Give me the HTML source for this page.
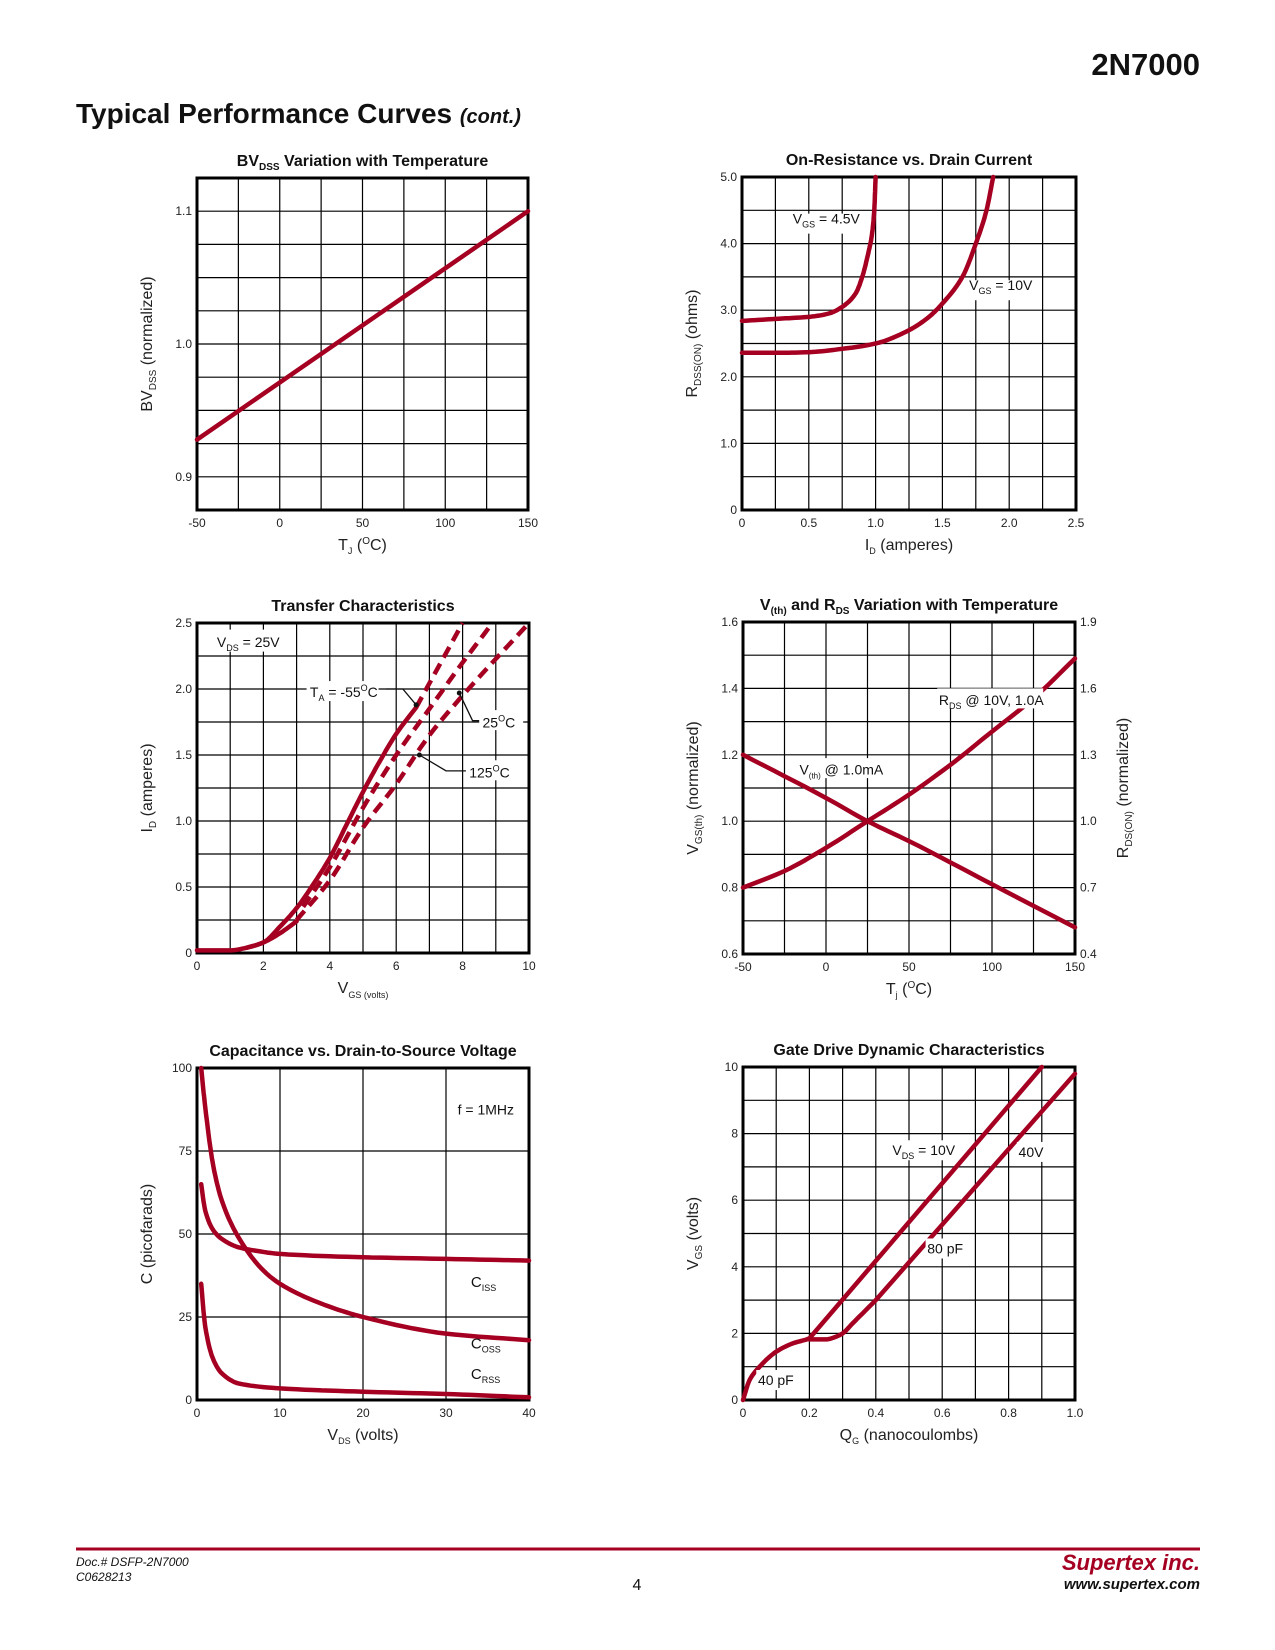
<!DOCTYPE html>
<html><head><meta charset="utf-8">
<style>
body{margin:0;background:#fff;}
svg{display:block;font-family:"Liberation Sans",Arial,sans-serif;}
</style></head>
<body>
<svg id="page" width="1275" height="1650" viewBox="0 0 1275 1650" xmlns="http://www.w3.org/2000/svg">
<text x="1200" y="75" text-anchor="end" font-size="31" font-weight="bold" fill="#111">2N7000</text>
<text x="76" y="123" font-size="28" font-weight="bold" fill="#111">Typical Performance Curves <tspan font-size="20" font-style="italic">(cont.)</tspan></text>
<line x1="76" y1="1549" x2="1200" y2="1549" stroke="#A50021" stroke-width="3"/>
<text x="76" y="1566" font-size="12" font-style="italic" fill="#111">Doc.# DSFP-2N7000</text>
<text x="76" y="1581" font-size="12" font-style="italic" fill="#111">C0628213</text>
<text x="637" y="1590" font-size="16" text-anchor="middle" fill="#111">4</text>
<text x="1200" y="1570" text-anchor="end" font-size="22" font-weight="bold" font-style="italic" fill="#A50021">Supertex inc.</text>
<text x="1200" y="1589" text-anchor="end" font-size="15" font-weight="bold" font-style="italic" fill="#111">www.supertex.com</text>
<g id="charts"></g>
</svg>
<script>
// ---- Chart 1: BVdss ----
const bvT = [-50, 150];
const bvV = [0.928, 1.1];
// ---- Chart 2: On-resistance ----
const ron45I = [0, 0.25, 0.5, 0.65, 0.75, 0.85, 0.9, 0.95, 0.97, 0.99, 1.0];
const ron45R = [2.84, 2.87, 2.9, 2.95, 3.05, 3.25, 3.5, 3.9, 4.1, 4.5, 5.0];
const ron10I = [0, 0.25, 0.5, 0.75, 1.0, 1.25, 1.4, 1.5, 1.65, 1.75, 1.83, 1.88];
const ron10R = [2.36, 2.36, 2.37, 2.42, 2.5, 2.7, 2.9, 3.1, 3.5, 4.0, 4.5, 5.0];
// ---- Chart 3: Transfer ----
const trLowV = [0, 0.5, 1, 1.5, 2, 2.5, 3];
const trLowI = [0.02, 0.02, 0.02, 0.04, 0.08, 0.15, 0.24];
const tr55V = [1.5, 2, 2.5, 3, 3.5, 4, 4.5, 5, 5.5, 6, 6.6];
const tr55I = [0.04, 0.08, 0.2, 0.34, 0.52, 0.72, 0.97, 1.22, 1.45, 1.66, 1.86];
const tr55dV = [6.6, 8.0];
const tr55dI = [1.86, 2.5];
const tr25V = [3.2, 4, 5, 6, 7, 8, 8.9];
const tr25I = [0.35, 0.65, 1.1, 1.5, 1.85, 2.2, 2.5];
const tr125V = [3, 4, 5, 6, 7, 8, 10];
const tr125I = [0.25, 0.55, 0.95, 1.28, 1.65, 1.95, 2.5];
// ---- Chart 4: Vth & Rds vs temp ----
const vtT = [-50, 0, 25, 50, 100, 150];
const vtV = [1.2, 1.07, 1.0, 0.94, 0.81, 0.68];
const rdsT = [-50, -25, 0, 25, 50, 75, 100, 125, 150];
const rdsR = [0.7, 0.775, 0.88, 1.0, 1.12, 1.255, 1.405, 1.555, 1.735];
// ---- Chart 5: Capacitance ----
const cissV = [0.5, 1, 2, 3, 5, 7, 10, 20, 30, 40];
const cissC = [65, 57, 51, 48.5, 46, 45, 44, 43, 42.5, 42];
const cossV = [0.5, 1, 2, 3, 5, 8, 10, 15, 20, 30, 40];
const cossC = [100, 88, 70, 60, 49, 39, 35, 29, 25, 20, 18];
const crssV = [0.5, 1, 2, 3, 5, 10, 20, 30, 40];
const crssC = [35, 22, 12, 8, 5, 3.5, 2.5, 1.8, 0.8];
// ---- Chart 6: Gate charge ----
const g10Q = [0, 0.02, 0.05, 0.1, 0.15, 0.2, 0.9];
const g10V = [0, 0.6, 1.0, 1.45, 1.7, 1.85, 10];
const g40Q = [0.2, 0.25, 0.28, 0.3, 0.33, 0.4, 1.0];
const g40V = [1.82, 1.82, 1.9, 2.0, 2.3, 3.0, 9.8];

const NS = "http://www.w3.org/2000/svg";
const root = document.getElementById('charts');
const RED = "#A50021";
function mk(tag, attrs, parent){const e=document.createElementNS(NS,tag);for(const k in attrs)e.setAttribute(k,attrs[k]);(parent||root).appendChild(e);return e;}
function txt(x,y,s,size,anchor,parent,extra){const t=mk('text',Object.assign({x:x,y:y,'font-size':size,'text-anchor':anchor||'start',fill:'#222'},extra||{}),parent);t.innerHTML=s;return t;}

function chart(o){
  const g=mk('g',{});
  
  
  const sx=v=>o.L+(v-o.x0)/(o.x1-o.x0)*(o.R-o.L);
  const sy=v=>o.B-(v-o.y0)/(o.y1-o.y0)*(o.B-o.T);
  for(let i=1;i<o.nx;i++){const x=o.L+i*(o.R-o.L)/o.nx;const l=mk('line',{x1:x,y1:o.T,x2:x,y2:o.B,stroke:'#000','stroke-width':1.2},g);}
  for(let i=1;i<o.ny;i++){const y=o.T+i*(o.B-o.T)/o.ny;const l=mk('line',{x1:o.L,y1:y,x2:o.R,y2:y,stroke:'#000','stroke-width':1.2},g);}
  o.xt.forEach((v,i)=>{const t=txt(sx(v),o.B+17,o.xtl?o.xtl[i]:String(v),12,'middle',g);});
  o.ytl.forEach((s,i)=>{const t=txt(o.L-5,sy(o.yt[i])+4,s,12,'end',g);});
  const tt=txt((o.L+o.R)/2,o.T-12,o.title,16,'middle',g,{'font-weight':'bold',fill:'#111'});
  
  const xa=txt((o.L+o.R)/2,o.B+40,o.xlab,16,'middle',g);
  
  const ya=txt(0,0,o.ylab,16,'middle',g,{transform:`translate(${o.L-45},${(o.T+o.B)/2}) rotate(-90)`});
  
  const f=mk('rect',{x:o.L,y:o.T,width:o.R-o.L,height:o.B-o.T,fill:'none',stroke:'#000','stroke-width':3},g);
  
  return {g,sx,sy};
}
function curve(c,xs,ys,name,dash,syOverride){
  const sy=syOverride||c.sy;
  let d='';xs.forEach((x,i)=>{d+=(i?'L':'M')+c.sx(x).toFixed(1)+' '+sy(ys[i]).toFixed(1);});
  const p=mk('path',{d:d,fill:'none',stroke:RED,'stroke-width':4.5,'stroke-linejoin':'round','stroke-linecap':dash?'butt':'round'},c.g);
  if(dash)p.setAttribute('stroke-dasharray','12 7');
  
  
  return p;
}
// monotone cubic (Fritsch-Carlson) resampling
function smooth(xs,ys,n){
  const m=xs.length; if(m<3) return [xs.slice(),ys.slice()];
  const d=[],h=[];
  for(let i=0;i<m-1;i++){h.push(xs[i+1]-xs[i]);d.push((ys[i+1]-ys[i])/h[i]);}
  const t=new Array(m);
  t[0]=d[0];t[m-1]=d[m-2];
  for(let i=1;i<m-1;i++){ if(d[i-1]*d[i]<=0) t[i]=0; else { const w1=2*h[i]+h[i-1],w2=h[i]+2*h[i-1]; t[i]=(w1+w2)/(w1/d[i-1]+w2/d[i]); } }
  const ox=[],oy=[];
  for(let i=0;i<m-1;i++){
    for(let k=0;k<n;k++){const s=k/n,s2=s*s,s3=s2*s;
      const h00=2*s3-3*s2+1,h10=s3-2*s2+s,h01=-2*s3+3*s2,h11=s3-s2;
      ox.push(xs[i]+s*h[i]);
      oy.push(h00*ys[i]+h10*h[i]*t[i]+h01*ys[i+1]+h11*h[i]*t[i+1]);}
  }
  ox.push(xs[m-1]);oy.push(ys[m-1]);return [ox,oy];
}
function label(c,x,y,html,size,name,anchor){const t=txt(x,y,html,size||14,anchor||'start',c.g,{fill:'#111'});return t;}
function bgLabel(c,x,y,w,h){const r=mk('rect',{x:x,y:y,width:w,height:h,fill:'#fff'},c.g);}

// Chart 1
{const c=chart({name:'bvdss-chart',L:197,R:528,T:178,B:510,x0:-50,x1:150,y0:0.875,y1:1.125,nx:8,ny:10,xt:[-50,0,50,100,150],yt:[0.9,1.0,1.1],ytl:['0.9','1.0','1.1'],
 title:'BV<tspan font-size="10" dy="4">DSS</tspan><tspan dy="-4"> Variation with Temperature</tspan>',xlab:'T<tspan font-size="9" dy="4">J</tspan><tspan dy="-4"> (</tspan><tspan font-size="10" dy="-6">O</tspan><tspan dy="6">C)</tspan>',ylab:'BV<tspan font-size="10" dy="4">DSS</tspan><tspan dy="-4"> (normalized)</tspan>'});
 curve(c,bvT,bvV,'bvdss-line');}

// Chart 2
{const c=chart({name:'on-resistance-chart',L:742,R:1076,T:177,B:510,x0:0,x1:2.5,y0:0,y1:5,nx:10,ny:10,xt:[0,0.5,1,1.5,2,2.5],xtl:['0','0.5','1.0','1.5','2.0','2.5'],yt:[0,1,2,3,4,5],ytl:['0','1.0','2.0','3.0','4.0','5.0'],
 title:'On-Resistance vs. Drain Current',xlab:'I<tspan font-size="9" dy="4">D</tspan><tspan dy="-4"> (amperes)</tspan>',ylab:'R<tspan font-size="10" dy="4">DSS(ON)</tspan><tspan dy="-4"> (ohms)</tspan>'});
 let s=smooth(ron45I,ron45R,10);curve(c,s[0],s[1],'vgs-4.5v-curve');
 s=smooth(ron10I,ron10R,10);curve(c,s[0],s[1],'vgs-10v-curve');
 bgLabel(c,c.sx(0.36),c.sy(4.45),70,20);label(c,c.sx(0.38),c.sy(4.3),'V<tspan font-size="9" dy="4">GS</tspan><tspan dy="-4"> = 4.5V</tspan>',14,'vgs-4.5v-label');
 bgLabel(c,c.sx(1.68),c.sy(3.45),66,20);label(c,c.sx(1.7),c.sy(3.3),'V<tspan font-size="9" dy="4">GS</tspan><tspan dy="-4"> = 10V</tspan>',14,'vgs-10v-label');}

// Chart 3
{const c=chart({name:'transfer-chart',L:197,R:529,T:623,B:953,x0:0,x1:10,y0:0,y1:2.5,nx:10,ny:10,xt:[0,2,4,6,8,10],yt:[0,0.5,1,1.5,2,2.5],ytl:['0','0.5','1.0','1.5','2.0','2.5'],
 title:'Transfer Characteristics',xlab:'V<tspan font-size="9" dy="5">GS (volts)</tspan>',ylab:'I<tspan font-size="10" dy="4">D</tspan><tspan dy="-4"> (amperes)</tspan>'});
 let s=smooth(trLowV,trLowI,8);curve(c,s[0],s[1],'low-temp-common-curve');
 s=smooth(tr55V,tr55I,8);curve(c,s[0],s[1],'minus55c-solid-curve');
 curve(c,tr55dV,tr55dI,'minus55c-dashed-curve',true);
 s=smooth(tr25V,tr25I,8);curve(c,s[0],s[1],'25c-dashed-curve',true);
 s=smooth(tr125V,tr125I,8);curve(c,s[0],s[1],'125c-dashed-curve',true);
 bgLabel(c,c.sx(0.5),c.sy(2.45),68,22);label(c,c.sx(0.6),c.sy(2.32),'V<tspan font-size="9" dy="4">DS</tspan><tspan dy="-4"> = 25V</tspan>',14,'vds-label');
 bgLabel(c,c.sx(3.3),c.sy(2.06),72,20);label(c,c.sx(3.4),c.sy(1.94),'T<tspan font-size="9" dy="4">A</tspan><tspan dy="-4"> = -55</tspan><tspan font-size="9" dy="-6">O</tspan><tspan dy="6">C</tspan>',14,'ta-55-label');
 bgLabel(c,c.sx(8.5),c.sy(1.84),44,20);label(c,c.sx(8.6),c.sy(1.71),'25<tspan font-size="9" dy="-6">O</tspan><tspan dy="6">C</tspan>',14,'25c-label');
 bgLabel(c,c.sx(8.1),c.sy(1.46),52,20);label(c,c.sx(8.2),c.sy(1.33),'125<tspan font-size="9" dy="-6">O</tspan><tspan dy="6">C</tspan>',14,'125c-label');
 const arr=[[5.7,2.0,6.2,2.0,6.6,1.88],[8.5,1.76,8.3,1.76,7.9,1.97],[8.1,1.38,7.5,1.38,6.7,1.5]];
 arr.forEach((a,i)=>{const p=mk('polyline',{points:`${c.sx(a[0])},${c.sy(a[1])} ${c.sx(a[2])},${c.sy(a[3])} ${c.sx(a[4])},${c.sy(a[5])}`,fill:'none',stroke:'#111','stroke-width':1.3},c.g);
  const h=mk('circle',{cx:c.sx(a[4]),cy:c.sy(a[5]),r:2.5,fill:'#111'},c.g);});}

// Chart 4
{const c=chart({name:'vth-rds-temp-chart',L:743,R:1075,T:622,B:954,x0:-50,x1:150,y0:0.6,y1:1.6,nx:8,ny:10,xt:[-50,0,50,100,150],yt:[0.6,0.8,1.0,1.2,1.4,1.6],ytl:['0.6','0.8','1.0','1.2','1.4','1.6'],
 title:'V<tspan font-size="10" dy="4">(th)</tspan><tspan dy="-4"> and R</tspan><tspan font-size="10" dy="4">DS</tspan><tspan dy="-4"> Variation with Temperature</tspan>',xlab:'T<tspan font-size="9" dy="4">j</tspan><tspan dy="-4"> (</tspan><tspan font-size="10" dy="-6">O</tspan><tspan dy="6">C)</tspan>',ylab:'V<tspan font-size="10" dy="4">GS(th)</tspan><tspan dy="-4"> (normalized)</tspan>'});
 const syR=v=>c.sy(0.6+(v-0.4)/1.5);
 const rt=[0.4,0.7,1.0,1.3,1.6,1.9];
 rt.forEach(v=>{const t=txt(1080,syR(v)+4,v.toFixed(1),12,'start',c.g);});
 const ry=txt(0,0,'R<tspan font-size="10" dy="4">DS(ON)</tspan><tspan dy="-4"> (normalized)</tspan>',16,'middle',c.g,{transform:`translate(1128,788) rotate(-90)`});
 
 let s=smooth(vtT,vtV,8);curve(c,s[0],s[1],'vth-curve');
 s=smooth(rdsT,rdsR,8);curve(c,s[0],s[1],'rds-curve',false,syR);
 bgLabel(c,c.sx(67),c.sy(1.4),106,20);label(c,c.sx(68),c.sy(1.35),'R<tspan font-size="9" dy="4">DS</tspan><tspan dy="-4"> @ 10V, 1.0A</tspan>',14,'rds-label');
 bgLabel(c,c.sx(-17),c.sy(1.19),86,20);label(c,c.sx(-16),c.sy(1.14),'V<tspan font-size="8" dy="4">(th)</tspan><tspan dy="-4"> @ 1.0mA</tspan>',14,'vth-label');}

// Chart 5
{const c=chart({name:'capacitance-chart',L:197,R:529,T:1068,B:1400,x0:0,x1:40,y0:0,y1:100,nx:4,ny:4,xt:[0,10,20,30,40],yt:[0,25,50,75,100],ytl:['0','25','50','75','100'],
 title:'Capacitance vs. Drain-to-Source Voltage',xlab:'V<tspan font-size="9" dy="4">DS</tspan><tspan dy="-4"> (volts)</tspan>',ylab:'C (picofarads)'});
 let s=smooth(cissV,cissC,10);curve(c,s[0],s[1],'ciss-curve');
 s=smooth(cossV,cossC,10);curve(c,s[0],s[1],'coss-curve');
 s=smooth(crssV,crssC,10);curve(c,s[0],s[1],'crss-curve');
 label(c,c.sx(31.4),c.sy(86),'f = 1MHz',14,'frequency-label');
 label(c,c.sx(33),c.sy(34),'C<tspan font-size="9" dy="4">ISS</tspan>',15,'ciss-label');
 label(c,c.sx(33),c.sy(15.5),'C<tspan font-size="9" dy="4">OSS</tspan>',15,'coss-label');
 label(c,c.sx(33),c.sy(6.3),'C<tspan font-size="9" dy="4">RSS</tspan>',15,'crss-label');}

// Chart 6
{const c=chart({name:'gate-charge-chart',L:743,R:1075,T:1067,B:1400,x0:0,x1:1,y0:0,y1:10,nx:10,ny:10,xt:[0,0.2,0.4,0.6,0.8,1.0],xtl:['0','0.2','0.4','0.6','0.8','1.0'],yt:[0,2,4,6,8,10],ytl:['0','2','4','6','8','10'],
 title:'Gate Drive Dynamic Characteristics',xlab:'Q<tspan font-size="9" dy="4">G</tspan><tspan dy="-4"> (nanocoulombs)</tspan>',ylab:'V<tspan font-size="10" dy="4">GS</tspan><tspan dy="-4"> (volts)</tspan>'});
 let s=smooth(g10Q,g10V,10);
 // last segment should be straight: truncate spline at 0.2 then add endpoint
 let q=[],v=[];s[0].forEach((x,i)=>{if(x<=g10Q[g10Q.length-2]+1e-9){q.push(x);v.push(s[1][i]);}});
 q.push(g10Q[g10Q.length-1]);v.push(g10V[g10V.length-1]);
 curve(c,q,v,'vds-10v-curve');
 s=smooth(g40Q.slice(0,-1),g40V.slice(0,-1),10);
 q=s[0].concat([g40Q[g40Q.length-1]]);v=s[1].concat([g40V[g40V.length-1]]);
 curve(c,q,v,'vds-40v-curve');
 bgLabel(c,c.sx(0.445),c.sy(7.8),64,20);label(c,c.sx(0.45),c.sy(7.35),'V<tspan font-size="9" dy="4">DS</tspan><tspan dy="-4"> = 10V</tspan>',14,'vds-10v-label');
 bgLabel(c,c.sx(0.825),c.sy(7.75),36,20);label(c,c.sx(0.83),c.sy(7.3),'40V',14,'vds-40v-label');
 bgLabel(c,c.sx(0.55),c.sy(4.85),44,20);label(c,c.sx(0.555),c.sy(4.4),'80 pF',14,'80pf-label');
 bgLabel(c,c.sx(0.04),c.sy(0.9),46,20);label(c,c.sx(0.045),c.sy(0.45),'40 pF',14,'40pf-label');}
</script>
</body></html>
